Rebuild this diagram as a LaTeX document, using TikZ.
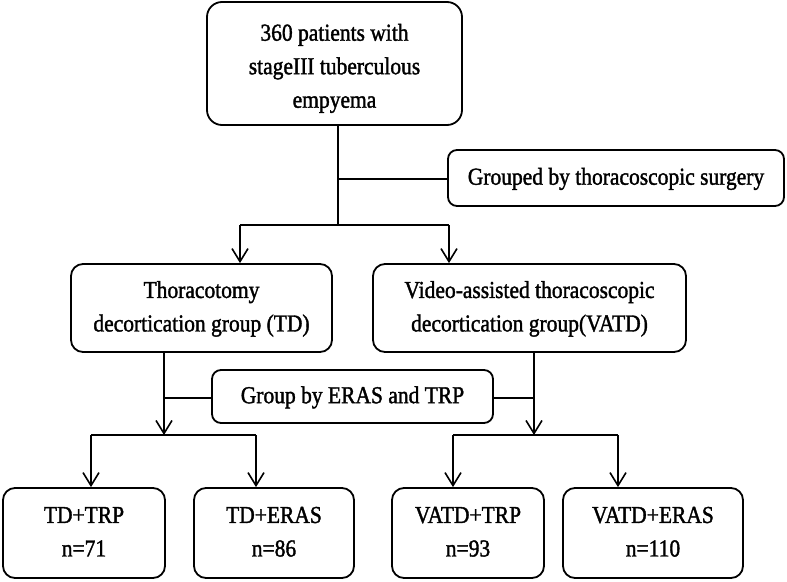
\documentclass[tikz,border=0pt]{standalone}
\usepackage{fontspec}
\usepackage{graphicx}
\setmainfont{Liberation Serif}
\newfontfamily\dfont{Liberation Serif}[FakeBold=1.6]
\newcommand{\boxtext}[1]{\scalebox{0.885}[1]{\begin{tabular}{@{}c@{}}#1\end{tabular}}}
\usetikzlibrary{arrows.meta}
\tikzset{
  box/.style={draw, line width=1.8pt, rounded corners=12pt, align=center, inner sep=0pt,
    font=\dfont\fontsize{24.3}{33.5}\selectfont},
  conn/.style={line width=1.8pt},
  arr/.style={line width=1.8pt, -{Straight Barb[length=13pt,width=16pt,line width=1.6pt]}}
}
\begin{document}
\begin{tikzpicture}[x=1pt,y=-1pt]
\useasboundingbox (0,0) rectangle (787,581);
\node[box, rounded corners=15pt, minimum width=255pt, minimum height=123pt] (top) at (334.5,63.5)
  {\raisebox{-4pt}[\height][\depth]{\boxtext{360 patients with\\stageIII tuberculous\\empyema}}};
\node[box, rounded corners=9pt, minimum width=336pt, minimum height=56pt] (g1) at (616,178)
  {\boxtext{Grouped by thoracoscopic surgery}};
\node[box, minimum width=261pt, minimum height=88pt] (td) at (201.5,308)
  {\boxtext{Thoracotomy\\decortication group (TD)}};
\node[box, minimum width=313pt, minimum height=88pt] (vatd) at (529.5,308)
  {\boxtext{Video-assisted thoracoscopic\\decortication group(VATD)}};
\node[box, rounded corners=9pt, minimum width=281pt, minimum height=53pt] (g2) at (352.5,396.5)
  {\boxtext{Group by ERAS and TRP}};
\node[box, minimum width=162pt, minimum height=90pt] (b1) at (84,533) {\boxtext{TD+TRP\\n=71}};
\node[box, minimum width=160pt, minimum height=90pt] (b2) at (274,533) {\boxtext{TD+ERAS\\n=86}};
\node[box, minimum width=152pt, minimum height=90pt] (b3) at (468,533) {\boxtext{VATD+TRP\\n=93}};
\node[box, minimum width=180pt, minimum height=90pt] (b4) at (653,533) {\boxtext{VATD+ERAS\\n=110}};

% top split
\coordinate (j1) at (338,179);
\coordinate (j2) at (338,225);
\coordinate (l1) at (240,225);
\coordinate (r1) at (449,225);
\draw[conn] (top.south -| j1) -- (j2);
\draw[conn] (j1) -- (g1.west |- j1);
\draw[conn] (l1) -- (r1);
\draw[arr] (l1) -- (td.north -| l1);
\draw[arr] (r1) -- (vatd.north -| r1);

% second split
\coordinate (jl) at (164,398);
\coordinate (jr) at (534,398);
\coordinate (al) at (164,435);
\coordinate (ar) at (534,435);
\draw[conn] (g2.west |- jl) -- (jl);
\draw[conn] (g2.east |- jr) -- (jr);
\draw[arr] (td.south -| jl) -- (al);
\draw[arr] (vatd.south -| jr) -- (ar);

\coordinate (bl1) at (91,435);
\coordinate (bl2) at (256,435);
\coordinate (br1) at (453,435);
\coordinate (br2) at (618,435);
\draw[conn] (bl1) -- (bl2);
\draw[conn] (br1) -- (br2);
\draw[arr] (bl1) -- (b1.north -| bl1);
\draw[arr] (bl2) -- (b2.north -| bl2);
\draw[arr] (br1) -- (b3.north -| br1);
\draw[arr] (br2) -- (b4.north -| br2);
\end{tikzpicture}
\end{document}
